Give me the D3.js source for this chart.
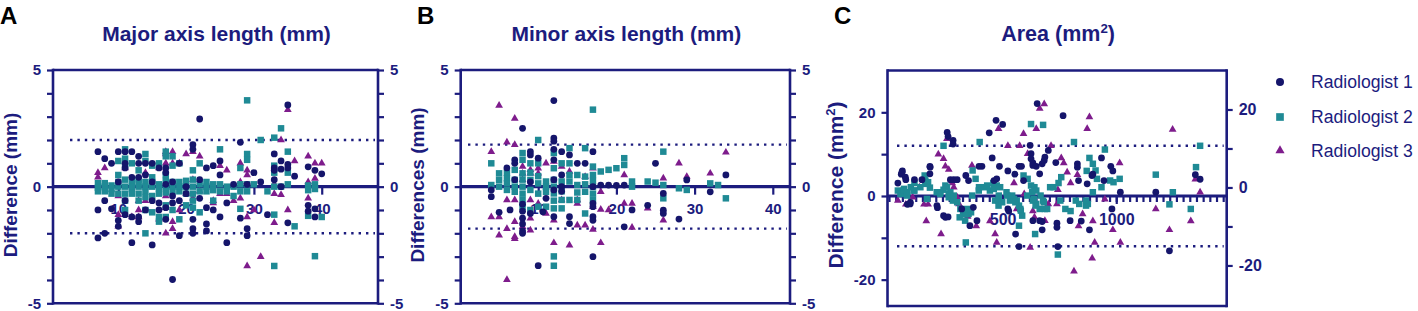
<!DOCTYPE html>
<html><head><meta charset="utf-8">
<script src="https://cdn.jsdelivr.net/npm/d3@7/dist/d3.min.js"></script>
<style>
body{margin:0;background:#fff}
svg{display:block}
text{font-family:"Liberation Sans",Arial,Helvetica,sans-serif}
</style>
</head><body>
<svg id="chart" width="1418" height="311"></svg>
<script>
// ---------------- DATA ----------------
const seriesNames = ["Radiologist 1", "Radiologist 2", "Radiologist 3"];
const panelLetters = ["A", "B", "C"];
const panelTitles = ["Major axis length (mm)", "Minor axis length (mm)", "Area (mm"];
const yTitles = ["Difference (mm)", "Differences (mm)", "Difference (mm"];
const limitsA = [2, -2];
const limitsB = [1.8, -1.8];
const limitsC = [12, -12];
const xTicksA = [10, 20, 30, 40];
const xTicksB = [10, 20, 30, 40];
const xTicksC = [500, 1000];
const yLabelsAB = [-5, 0, 5];
const yLabelsC = [-20, 0, 20];

// Panel A: major axis length  [mean, difference]
const majorR1 = [[7,1.5],[7,-1.0],[7,-2.2],[8,1.2],[8,-0.6],[8,-2.0],[9,1.0],[9,-0.95],[10,1.5],[10,-1.45],[10,-1.7],[10,0.2],[11,1.5],[11,0.8],[11,1.0],[11,-0.6],[11,-1.2],[12,1.5],[12,0.4],[12,-1.3],[12,-2.4],[13,1.3],[13,1.0],[13,0.4],[13,-1.3],[13,-1.5],[14,1.0],[14,0.5],[14,-1.0],[15,1.0],[15,0.2],[15,-0.6],[15,-2.5],[16,0.8],[16,-0.7],[16,-1.0],[17,0.6],[17,-0.9],[17,-1.4],[17,0.8],[17,0.1],[18,-3.98],[18,-0.7],[18,-0.4],[18,0.2],[19,1.0],[19,-0.6],[19,-2.1],[20,0.0],[20,-0.3],[21,1.8],[21,1.6],[21,-1.4],[21,-1.8],[21,-2.0],[22,2.9],[22,-0.5],[22,0.3],[23,0.8],[23,-0.9],[23,-1.6],[23,-1.9],[24,0.9],[24,-1.0],[25,1.1],[25,0.5],[25,-1.3],[26,-2.4],[26,-0.7],[27,0.1],[28,1.9],[28,-1.35],[29,-1.8],[29,-2.1],[29,0.1],[30,0.6],[31,0.2],[32,-1.2],[33,1.4],[33,0.8],[33,0.3],[33,0.7],[34,1.1],[34,0.75],[34,0.0],[35,3.5],[35,0.95],[35,0.8],[35,-1.55],[36,0.45],[38,0.85],[38,-0.8],[38,-1.05],[39,0.7],[39,-0.95],[39,-1.3],[40,0.55]];
const majorR2 = [[7,0.15],[7,-0.05],[7,-0.2],[8,0.0],[8,-0.2],[8,0.15],[9,-0.1],[9,0.05],[9,-0.3],[10,0.5],[10,0.0],[10,-0.3],[10,1.1],[10,0.2],[11,1.6],[11,1.2],[11,0.9],[11,0.3],[11,0.0],[11,-0.3],[11,-1.0],[11,-0.6],[12,1.0],[12,0.2],[12,-0.1],[12,-0.3],[12,0.0],[13,0.7],[13,0.3],[13,0.0],[13,-0.3],[13,-0.6],[13,0.15],[14,1.4],[14,1.1],[14,0.2],[14,-0.2],[14,-1.0],[14,-2.0],[14,0.0],[14,-0.45],[15,0.9],[15,0.4],[15,0.0],[15,-0.4],[15,-1.1],[15,0.2],[16,1.0],[16,0.1],[16,-0.3],[16,-1.3],[16,-1.5],[16,-0.1],[17,1.5],[17,1.3],[17,0.5],[17,0.0],[17,-0.8],[17,-1.3],[17,0.25],[17,-0.25],[18,1.3],[18,0.9],[18,0.2],[18,-0.2],[18,-1.0],[18,0.0],[19,1.0],[19,0.2],[19,-0.2],[19,-1.4],[19,0.0],[20,0.0],[20,-0.3],[20,-0.8],[20,0.25],[21,0.7],[21,0.3],[21,0.0],[21,-0.3],[21,-0.6],[21,-0.9],[22,1.0],[22,0.1],[22,-0.2],[22,-1.1],[23,0.2],[23,-0.2],[23,0.0],[24,0.1],[24,-0.6],[24,-0.15],[25,1.6],[25,0.1],[25,-0.2],[26,0.0],[26,-0.2],[27,0.0],[27,-0.4],[28,0.8],[28,-0.2],[28,-0.95],[28,0.1],[29,3.7],[29,1.4],[29,1.15],[29,0.1],[29,-0.2],[30,0.1],[31,2.0],[32,-0.2],[33,2.1],[33,0.9],[33,0.6],[33,0.0],[33,-1.2],[33,-3.4],[34,2.5],[34,0.0],[35,1.5],[35,0.6],[35,0.1],[36,-1.7],[38,0.05],[38,-0.15],[38,-1.25],[39,0.1],[39,-0.1],[39,-2.98],[40,-1.3]];
const majorR3 = [[7,0.6],[7,0.4],[8,0.8],[10,-0.4],[10,-1.2],[10,-1.7],[11,0.8],[11,-1.2],[12,-1.3],[13,-0.6],[13,-1.0],[13,-1.3],[14,0.6],[14,-0.6],[16,-1.4],[16,0.8],[17,1.5],[17,1.4],[17,1.0],[17,-0.4],[17,-0.9],[17,-2.0],[18,1.5],[18,1.0],[18,-1.5],[18,-1.8],[19,1.0],[19,-1.0],[20,1.4],[20,-0.3],[21,1.5],[21,0.3],[21,-0.5],[22,1.3],[22,-0.2],[24,-0.6],[24,-0.7],[25,-0.3],[25,0.9],[26,0.7],[26,-0.3],[27,-0.6],[28,1.0],[28,-0.5],[28,0.2],[29,0.7],[29,0.5],[29,-1.3],[29,-3.4],[30,-1.0],[31,-3.0],[33,-0.3],[33,-1.55],[33,0.1],[34,2.0],[34,-0.35],[35,3.3],[35,-1.0],[36,1.1],[38,1.3],[38,-0.5],[38,0.2],[39,1.0],[39,0.35],[40,1.0]];

// Panel B: minor axis length
const minorR1 = [[4,-0.14],[4,-0.43],[5,-1.1],[6,0.8],[6.4,-1.0],[7,1.15],[7,1.0],[7,0.3],[8,2.5],[8,-0.75],[8,-1.05],[8,-1.35],[8,-1.6],[8,-1.9],[8,-2.0],[9,1.5],[9,1.36],[9,-1.15],[9,0.2],[10,1.22],[10,-3.39],[10.6,-1.08],[11,-0.5],[12,3.69],[12,2.08],[12,1.95],[12,1.6],[12,1.15],[12,0.3],[12,-0.14],[12,-1.29],[13,1.5],[13,0.5],[13,0.0],[13,-0.2],[14,1.36],[14,-1.29],[14,-1.58],[15,1.0],[16,1.0],[17,1.5],[17,0.0],[17,-0.72],[17,-0.86],[17,-1.29],[17,-1.44],[17,-3.0],[18,0.07],[19,0.07],[20,0.05],[21,0.07],[21,-1.72],[22,-1.0],[24,-0.8],[25,1.0],[26,-0.29],[26,-1.01],[26,-1.15],[28,-1.39],[29,0.29],[32,-0.22],[34,0.5]];
const minorR2 = [[4,1.0],[4,0.07],[5,0.57],[5,0.29],[5,0.0],[6,0.36],[6,0.14],[6,-0.14],[6,0.6],[7,0.72],[7,0.29],[7,-0.22],[7,0.0],[8,1.44],[8,1.15],[8,0.57],[8,0.0],[8,-0.57],[8,-0.86],[8,0.3],[8,-0.3],[9,1.0],[9,0.29],[9,-0.14],[9,-1.0],[9,0.6],[10,2.0],[10,1.0],[10,0.14],[10,-0.86],[10,0.45],[10,-0.3],[11,0.22],[11,-0.22],[11,-0.86],[11,0.0],[12,1.44],[12,0.79],[12,0.29],[12,-0.29],[12,-0.93],[12,-2.99],[12,-3.39],[12,0.0],[12,-0.6],[13,1.0],[13,0.22],[13,-0.57],[13,-0.93],[13,-0.2],[14,1.65],[14,1.0],[14,0.22],[14,-0.57],[14,0.5],[15,0.5],[15,0.07],[15,-0.57],[15,-0.25],[16,1.65],[16,0.43],[16,-0.22],[16,-1.15],[16,0.1],[17,3.3],[17,0.86],[17,0.5],[17,0.0],[17,-0.57],[17,0.25],[17,-0.3],[18,0.65],[19,0.72],[20,0.79],[21,1.22],[21,0.93],[22,0.22],[22,0.0],[24,0.22],[25,0.17],[26,1.5],[26,0.07],[26,-0.5],[28,-0.07],[29,-0.14],[32,0.14],[33,0.07],[34,-0.5]];
const minorR3 = [[4,1.5],[4,-1.3],[5,3.48],[5,-1.3],[5,-2.08],[6,1.9],[6,-0.57],[6,-1.8],[6,-3.99],[7,2.92],[7,1.8],[7,-0.57],[7,-1.5],[7,-2.15],[7,-2.23],[8,0.86],[8,0.57],[8,0.29],[8,-1.72],[9,0.72],[9,0.57],[9,-0.57],[9,-1.36],[9,-1.87],[10,0.79],[10,0.57],[10,-0.72],[11,1.0],[11,-1.15],[12,1.08],[12,-1.44],[12,-2.41],[13,0.86],[13,-0.57],[14,0.65],[14,-2.51],[15,-0.57],[15,-0.72],[15,-1.65],[16,0.43],[16,-1.65],[17,0.79],[17,-0.86],[17,-1.84],[18,-0.22],[18,-0.98],[18,-2.41],[19,-1.0],[21,0.5],[21,-0.72],[22,-0.72],[22,-1.75],[24,-0.93],[26,0.36],[26,-1.44],[28,1.0],[29,0.43],[32,0.57],[34,1.47]];

// Panel C: area
const areaR1 = [[39,3.1],[54,5.2],[59,6.0],[57,5.7],[72,4.5],[74,3.9],[81,-2.0],[93,-1.9],[94,-1.5],[112,3.9],[145,3.9],[180,7.1],[181,6.9],[180,5.3],[213,-2.8],[211,-2.3],[240,-4.7],[248,-5.1],[260,-5.0],[256,15.2],[260,14.2],[282,13.3],[282,12.4],[270,3.9],[285,3.9],[300,3.9],[320,-3.1],[338,4.9],[350,3.7],[356,-7.1],[371,-2.7],[387,-5.9],[396,7.1],[409,7.1],[441,15.1],[454,9.1],[471,18.1],[500,17.1],[486,7.1],[462,3.7],[474,4.1],[523,6.0],[523,-3.1],[527,-3.6],[554,5.2],[572,7.1],[583,7.1],[557,-9.1],[572,-12.1],[592,3.7],[621,12.1],[625,10.1],[625,8.9],[633,7.9],[633,7.3],[633,-5.9],[663,-5.9],[648,7.1],[663,5.3],[652,22.1],[674,7.7],[686,9.3],[683,8.5],[674,-6.1],[674,-8.1],[701,10.9],[734,8.0],[739,-6.5],[739,-7.5],[743,-12.1],[766,19.2],[797,-5.9],[829,7.7],[829,6.9],[834,3.7],[846,-6.0],[872,2.9],[882,-8.1],[893,4.9],[897,5.2],[935,9.1],[946,3.7],[976,7.1],[985,6.0],[981,-3.1],[1018,0.9],[1174,0.9],[1234,-13.1],[1348,5.1],[1369,4.0]];
const areaR2 = [[39,1.3],[54,0.5],[66,1.7],[81,0.9],[96,2.1],[112,3.1],[112,1.3],[157,4.9],[160,2.9],[172,3.3],[180,2.0],[210,0.9],[225,0.5],[240,1.5],[255,2.1],[270,0.9],[281,-1.1],[263,-0.3],[278,-0.3],[240,12.0],[311,-5.1],[326,-4.3],[335,-5.9],[350,-4.3],[361,-3.9],[338,-11.1],[368,6.1],[381,4.1],[396,2.1],[399,12.9],[421,2.1],[444,1.3],[459,3.1],[474,2.5],[489,2.1],[467,-1.1],[482,-1.1],[482,-2.3],[517,0.9],[532,-1.1],[550,-0.7],[562,-1.1],[572,-2.3],[580,-3.5],[572,-7.1],[625,17.2],[678,17.0],[592,4.9],[610,4.1],[625,2.5],[640,2.1],[648,1.3],[633,-1.1],[648,-1.9],[663,-3.1],[686,-3.1],[678,-1.1],[643,-9.1],[709,2.1],[724,2.1],[746,3.1],[758,4.5],[754,-1.1],[776,-3.1],[799,-3.6],[822,-1.1],[837,-1.9],[867,-2.3],[875,-1.9],[743,-14.0],[814,12.9],[882,9.1],[897,7.7],[909,6.1],[870,6.0],[915,4.1],[935,2.1],[950,11.1],[973,3.7],[988,3.3],[1015,4.1],[897,0.9],[867,-1.1],[1174,5.1],[1234,-2.0],[1249,0.9],[1328,-3.1],[1351,6.9],[1369,12.0],[50,0.5],[65,1.3],[79,0.1],[109,1.3],[138,2.1],[160,3.7],[167,-0.7],[226,0.9],[248,2.5],[263,0.5],[285,0.1],[300,-1.5],[314,-3.1],[336,-4.3],[344,-3.1],[366,0.1],[395,1.3],[432,2.5],[461,1.7],[483,0.1],[498,-1.5],[520,0.1],[542,0.1],[556,-1.5],[578,-3.1],[586,-4.7],[608,0.1],[630,0.9],[637,-0.7],[645,-2.3],[667,0.1],[681,-1.5],[696,-3.1]];
const areaR3 = [[39,-1.1],[74,-2.0],[104,-0.3],[134,2.1],[154,-2.0],[172,-2.0],[164,-6.0],[217,10.0],[240,8.9],[248,7.1],[263,6.3],[255,13.7],[229,-9.1],[278,3.1],[285,2.1],[300,-0.3],[308,-1.9],[346,-4.9],[365,7.3],[384,-7.2],[444,-6.0],[467,-9.1],[474,-11.1],[482,16.1],[489,-1.1],[523,12.0],[550,3.1],[562,-3.1],[575,12.0],[592,14.9],[595,0.5],[610,10.1],[621,-12.3],[633,-3.6],[640,-5.1],[648,16.1],[643,7.3],[663,20.9],[683,22.0],[686,-5.9],[701,-1.9],[713,12.0],[739,-1.9],[743,1.5],[758,9.1],[769,7.9],[784,5.7],[799,3.1],[814,-18.0],[829,5.1],[834,-7.2],[852,-4.3],[872,16.1],[882,18.9],[894,-14.9],[897,-6.0],[905,-11.1],[950,-0.8],[985,-8.1],[1015,7.9],[1018,-11.1],[1174,-3.1],[1234,-8.1],[1248,15.9],[1328,-6.0],[1348,4.0],[1369,0.9]];

// ---------------- STYLE / LAYOUT ----------------
const NAVY = "#1c1c7e";
const colors = ["#15156b", "#1f8a95", "#7e1c8c"];
const symbols = [d3.symbolCircle, d3.symbolSquare, d3.symbolTriangle];
const symSizes = [36, 42, 26];
const drawOrder = [2, 1, 0];

const svg = d3.select("#chart");

const panels = [
  { letterX: 0, letter: panelLetters[0], title: panelTitles[0], ytitle: yTitles[0], sup: false,
    series: [majorR1, majorR2, majorR3], limits: limitsA,
    xDomain: [0.37, 48.3], left: 53, right: 378, top: 70, bottom: 303.3,
    yDomain: [-5, 5], yRDomain: [-5, 5], yMinor: d3.range(-5, 6, 1), yLabels: yLabelsAB, yRLabels: yLabelsAB,
    xTicks: xTicksA, xMinor: null, dotStart: 70, ytX: 17, titleSize: 21, ytSize: 19, xLabSize: 15 },
  { letterX: 417, letter: panelLetters[1], title: panelTitles[1], ytitle: yTitles[1], sup: false,
    series: [minorR1, minorR2, minorR3], limits: limitsB,
    xDomain: [0.09, 42.2], left: 460.7, right: 790, top: 70, bottom: 303.3,
    yDomain: [-5, 5], yRDomain: [-5, 5], yMinor: d3.range(-5, 6, 1), yLabels: yLabelsAB, yRLabels: yLabelsAB,
    xTicks: xTicksB, xMinor: null, dotStart: 468, ytX: 424, titleSize: 21, ytSize: 19, xLabSize: 15 },
  { letterX: 834, letter: panelLetters[2], title: panelTitles[2], ytitle: yTitles[2], sup: true,
    series: [areaR1, areaR2, areaR3], limits: limitsC,
    xDomain: [-6.6, 1486], left: 887.5, right: 1226.7, top: 70.5, bottom: 306,
    yDomain: [-26.3, 30], yRDomain: [-30.4, 30], yMinor: [-20, -10, 0, 10, 20], yRMinor: [-20, -10, 0, 10, 20],
    yLabels: yLabelsC, yRLabels: yLabelsC,
    xTicks: xTicksC, xMinor: d3.range(0, 1486, 500 / 17), dotStart: 897, ytX: 843, titleSize: 21.5, ytSize: 21, xLabSize: 16 }
];

const fmt = d => String(d);

function styleAxis(g, fontSize) {
  g.select(".domain").remove();
  g.selectAll(".tick line").attr("stroke", NAVY).attr("stroke-width", 2.2);
  g.selectAll(".tick text").attr("fill", NAVY).attr("font-weight", "bold")
    .attr("font-size", fontSize).attr("font-family", '"Liberation Sans", Arial, sans-serif');
}

panels.forEach(p => {
  const g = svg.append("g");
  const x = d3.scaleLinear().domain(p.xDomain).range([p.left, p.right]);
  const yL = d3.scaleLinear().domain(p.yDomain).range([p.bottom, p.top]);
  const yR = d3.scaleLinear().domain(p.yRDomain).range([p.bottom, p.top]);

  g.append("text").attr("x", p.letterX).attr("y", 24).text(p.letter)
    .attr("font-size", 24).attr("font-weight", "bold").attr("fill", "#000");

  const cx = (p.left + p.right) / 2 + 1;
  const t = g.append("text").attr("x", cx).attr("y", 40.5).attr("text-anchor", "middle")
    .attr("font-size", p.titleSize).attr("font-weight", "bold").attr("fill", NAVY).text(p.title);
  if (p.sup) {
    t.append("tspan").attr("dy", -8).attr("font-size", p.titleSize * 0.62).text("2");
    t.append("tspan").attr("dy", 8).text(")");
  }

  const yt = g.append("text").attr("transform", `translate(${p.ytX},185) rotate(-90)`)
    .attr("text-anchor", "middle").attr("font-size", p.ytSize).attr("font-weight", "bold")
    .attr("fill", NAVY).text(p.ytitle);
  if (p.sup) {
    yt.append("tspan").attr("dy", -8).attr("font-size", p.ytSize * 0.62).text("2");
    yt.append("tspan").attr("dy", 8).text(")");
  }

  const fw = 2.6;
  g.append("line").attr("x1", p.left).attr("x2", p.right).attr("y1", p.top).attr("y2", p.top)
    .attr("stroke", NAVY).attr("stroke-width", fw);
  g.append("line").attr("x1", p.left).attr("x2", p.right).attr("y1", p.bottom).attr("y2", p.bottom)
    .attr("stroke", NAVY).attr("stroke-width", fw);
  g.append("line").attr("x1", p.left).attr("x2", p.left).attr("y1", p.top - 1.3).attr("y2", p.bottom + 1.3)
    .attr("stroke", NAVY).attr("stroke-width", fw);
  g.append("line").attr("x1", p.right).attr("x2", p.right).attr("y1", p.top - 1.3).attr("y2", p.bottom + 1.3)
    .attr("stroke", NAVY).attr("stroke-width", fw);

  const la = g.append("g").attr("transform", `translate(${p.left},0)`)
    .call(d3.axisLeft(yL).tickValues(p.yMinor).tickSize(6).tickPadding(6)
      .tickFormat(d => p.yLabels.includes(d) ? fmt(d) : ""));
  styleAxis(la, 15);
  const ra = g.append("g").attr("transform", `translate(${p.right},0)`)
    .call(d3.axisRight(yR).tickValues(p.yRMinor || p.yMinor).tickSize(6).tickPadding(6)
      .tickFormat(d => p.yRLabels.includes(d) ? fmt(d) : ""));
  styleAxis(ra, p.sup ? 16 : 15);

  p.limits.forEach(v => {
    g.append("line").attr("x1", p.dotStart).attr("x2", p.right - 3)
      .attr("y1", yL(v)).attr("y2", yL(v))
      .attr("stroke", NAVY).attr("stroke-width", 2.4)
      .attr("stroke-dasharray", "2.4 5");
  });

  const y0 = yL(0);
  if (p.xMinor) {
    const mi = g.append("g").attr("transform", `translate(0,${y0})`)
      .call(d3.axisBottom(x).tickValues(p.xMinor).tickSize(6).tickFormat(""));
    styleAxis(mi, 15);
  }
  const xa = g.append("g").attr("transform", `translate(0,${y0})`)
    .call(d3.axisBottom(x).tickValues(p.xTicks).tickSize(8).tickPadding(p.sup ? 10 : 8.5).tickFormat(fmt));
  styleAxis(xa, p.xLabSize);
  g.append("line").attr("x1", p.left).attr("x2", p.right).attr("y1", y0).attr("y2", y0)
    .attr("stroke", NAVY).attr("stroke-width", 3.2);

  drawOrder.forEach(si => {
    g.append("g").selectAll("path").data(p.series[si]).join("path")
      .attr("transform", d => `translate(${x(d[0])},${yL(d[1])})`)
      .attr("d", d3.symbol().type(symbols[si]).size(symSizes[si]))
      .attr("fill", colors[si]);
  });
});

const legY = [82, 117, 150.5];
const lg = svg.append("g");
seriesNames.forEach((n, i) => {
  lg.append("path").attr("transform", `translate(1280,${legY[i]})`)
    .attr("d", d3.symbol().type(symbols[i]).size(symSizes[i] * 1.4)).attr("fill", colors[i]);
  lg.append("text").attr("x", 1311).attr("y", legY[i] + 6.3).attr("font-size", 17.6)
    .attr("fill", NAVY).text(n);
});
</script>
</body></html>
